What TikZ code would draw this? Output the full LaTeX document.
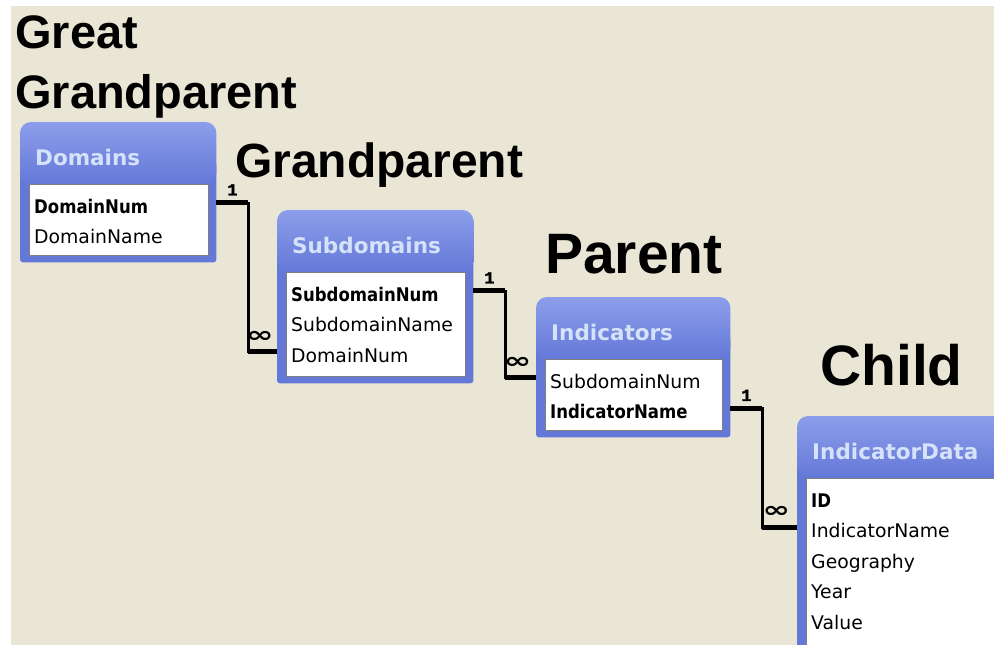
\documentclass[tikz,border=0pt]{standalone}
\usepackage{fontspec}
\setmainfont{DejaVu Sans}
\newfontfamily\tierfont{Liberation Sans}
\newfontfamily\keyfont[FakeStretch=0.88]{DejaVu Sans}
\newfontfamily\cardfont[FakeBold=2]{Liberation Mono}
\usetikzlibrary{calc, positioning}
\definecolor{panel}{RGB}{233,230,214}
\definecolor{headtop}{RGB}{140,158,234}
\definecolor{headbot}{RGB}{100,120,216}
\definecolor{titleblue}{RGB}{214,225,250}
\tikzset{
	tier/.style={font=\tierfont\bfseries\fontsize{#1}{60}\selectfont, anchor=base west, inner sep=0pt},
	tblbox/.style={anchor=north west, inner sep=0pt},
	tbltitle/.style={font=\bfseries\fontsize{21.5}{24}\selectfont, text=titleblue, anchor=west, inner sep=0pt},
	field/.style={font=\fontsize{18.8}{22}\selectfont, anchor=base west, inner sep=0pt},
	key/.style={field, font=\keyfont\bfseries\fontsize{18.8}{22}\selectfont},
	rel/.style={draw=black, line width=2.5pt},
	relend/.style={draw=black, line width=5pt},
	one/.style={font=\cardfont\bfseries\fontsize{17}{17}\selectfont, above=5pt, inner sep=0pt},
	many/.style={font=\bfseries\fontsize{22}{22}\selectfont, above=7pt, inner sep=0pt, pos=0.4}}
% name, north west corner, width, height, title, fields
\newcommand\dbtable[6]{%
	\node[tblbox, minimum width=#3pt, minimum height=#4pt] (#1) at (#2) {};
	\fill[headbot, rounded corners=3pt] ([yshift=-40pt]#1.north west) rectangle (#1.south east);
	\shade[top color=headtop, bottom color=headbot, rounded corners=11pt] (#1.north west) rectangle ([yshift=-62pt]#1.north east);
	\filldraw[fill=white, draw=gray, line width=1pt] ([shift={(9pt,-62pt)}]#1.north west) rectangle ([shift={(-8pt,7pt)}]#1.south east);
	\node[tbltitle] (#1-title) at ([shift={(15pt,-35pt)}]#1.north west) {#5};
	\foreach \s/\f [count=\i] in {#6}
		\node[\s] (#1-\i) at ([shift={(14pt,{-91pt-30.5pt*(\i-1)})}]#1.north west) {\f};
}

\begin{document}
\begin{tikzpicture}[x=1pt, y=-1pt]
	\useasboundingbox (0,0) rectangle (994,645);
	\clip (0,0) rectangle (994,645);
	\fill[white] (0,0) rectangle (994,645);
	\fill[panel] (11,6) rectangle (994,645);

	% tables
	\dbtable{dom}{20,122}{196}{140}{Domains}{key/DomainNum, field/DomainName}
	\dbtable{sub}{277,210}{196}{173}{Subdomains}{key/SubdomainNum, field/SubdomainName, field/DomainNum}
	\dbtable{ind}{536,297}{194}{140}{Indicators}{field/SubdomainNum, key/IndicatorName}
	\dbtable{dat}{797,416}{210}{260}{IndicatorData}{key/ID, field/IndicatorName, field/Geography, field/Year, field/Value}

	% levels
	\node[tier=47, align=left, anchor=north west] (ggp) at (15,15) {Great\\Grandparent};
	\node[tier=48] (gp) at (235,177) {Grandparent};
	\node[tier=57] (par) at (545,273) {Parent};
	\node[tier=57] (chi) at (820,385) {Child};

	% relationships
	\draw[rel] ([yshift=3pt]dom-1.west -| dom.east) -- ++(32,0) coordinate (r1) |- ([yshift=3pt]sub-3.west -| sub.west) coordinate (r1e);
	\draw[relend] ([yshift=3pt]dom-1.west -| dom.east) -- node[one] {1} (r1);
	\draw[relend] (r1 |- r1e) -- node[many] {\scalebox{1.5}[1]{∞}} (r1e);

	\draw[rel] ([yshift=3pt]sub-1.west -| sub.east) -- ++(32,0) coordinate (r2) |- ([yshift=3pt]ind-1.west -| ind.west) coordinate (r2e);
	\draw[relend] ([yshift=3pt]sub-1.west -| sub.east) -- node[one] {1} (r2);
	\draw[relend] (r2 |- r2e) -- node[many] {\scalebox{1.5}[1]{∞}} (r2e);

	\draw[rel] ([yshift=3pt]ind-2.west -| ind.east) -- ++(32,0) coordinate (r3) |- ([yshift=3pt]dat-2.west -| dat.west) coordinate (r3e);
	\draw[relend] ([yshift=3pt]ind-2.west -| ind.east) -- node[one] {1} (r3);
	\draw[relend] (r3 |- r3e) -- node[many] {\scalebox{1.5}[1]{∞}} (r3e);
\end{tikzpicture}
\end{document}
